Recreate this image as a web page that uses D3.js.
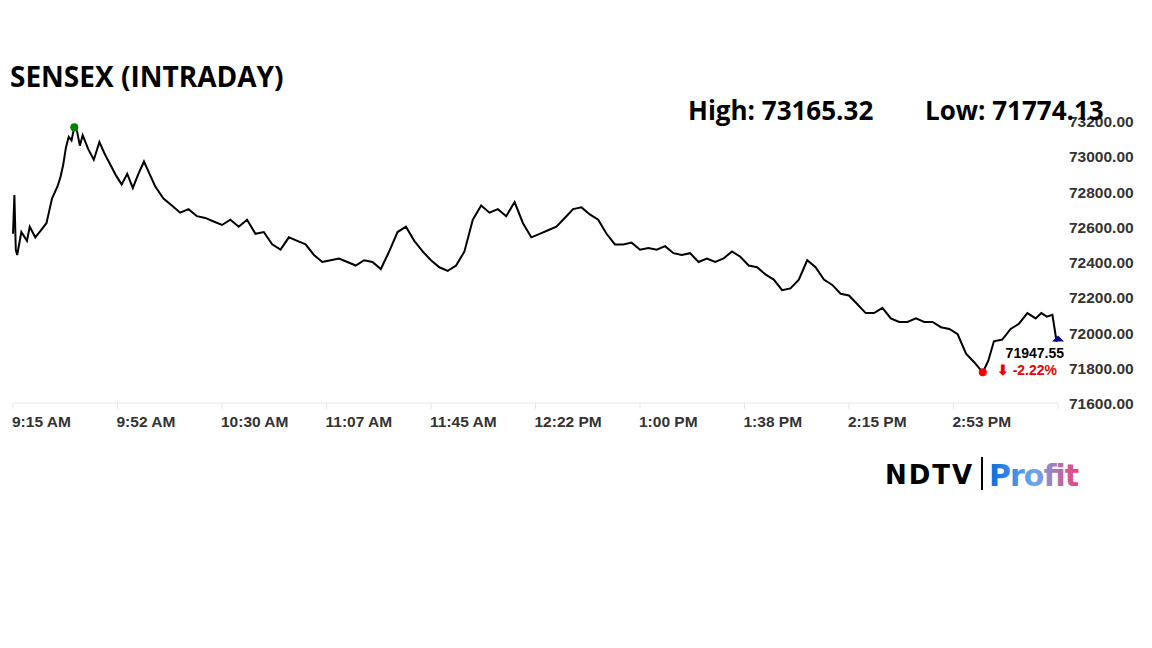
<!DOCTYPE html>
<html><head><meta charset="utf-8">
<script src="https://cdn.jsdelivr.net/npm/d3@7"></script>
<style>body{margin:0;background:#fff;font-family:"Open Sans",Arial,sans-serif}</style>
</head><body>
<script>
// minutes after 9:15 and index value
var mins = [0,0.5,1,1.5,3,5,6,8,10,12,13,14,16,17,18,19,20,21,22,23,24,25,27,29,31,33,35,37,39,41,43,45,47,49,51,54,57,60,63,66,69,72,75,78,81,84,87,90,93,96,99,102,105,108,111,114,117,120,123,126,129,132,135,138,141,144,147,150,153,156,159,162,165,168,171,174,177,180,183,186,189,192,195,198,201,204,207,210,213,216,219,222,225,228,231,234,237,240,243,246,249,252,255,258,261,264,267,270,273,276,279,282,285,288,291,294,297,300,303,306,309,312,315,318,321,324,327,330,333,336,339,342,345,348,350,352,355,358,361,364,367,369,371,373,374.5,375];
var vals = [72560,72780,72470,72440,72570,72520,72600,72540,72580,72620,72690,72760,72830,72880,72950,73050,73110,73090,73165,73140,73060,73120,73040,72980,73080,73010,72950,72890,72840,72900,72820,72900,72970,72900,72830,72760,72720,72680,72700,72660,72650,72630,72610,72640,72600,72640,72560,72570,72500,72470,72540,72520,72500,72440,72400,72410,72420,72400,72380,72410,72400,72360,72460,72570,72600,72520,72460,72410,72370,72350,72380,72460,72640,72720,72680,72700,72660,72740,72620,72540,72560,72580,72600,72650,72700,72710,72670,72640,72560,72500,72500,72510,72470,72480,72470,72490,72450,72440,72450,72400,72420,72400,72420,72460,72430,72380,72370,72330,72300,72240,72250,72300,72410,72370,72300,72270,72220,72210,72160,72110,72110,72140,72080,72060,72060,72080,72060,72060,72030,72020,71990,71880,71830,71774,71840,71950,71960,72020,72050,72110,72080,72110,72090,72100,71947.55];
var xTicks = ["9:15 AM","9:52 AM","10:30 AM","11:07 AM","11:45 AM","12:22 PM","1:00 PM","1:38 PM","2:15 PM","2:53 PM"];
var yTicks = [71600,71800,72000,72200,72400,72600,72800,73000,73200];

var svg = d3.select("body").append("svg").attr("width",1152).attr("height",648);
var x = d3.scaleLinear().domain([0,375]).range([13,1058]);
var y = d3.scaleLinear().domain([71600,73200]).range([403,121]);

svg.append("line").attr("x1",13).attr("x2",1058).attr("y1",403).attr("y2",403).attr("stroke","#e6e6e6");
xTicks.forEach(function(t,i){
  var px = x(i*37.5);
  svg.append("line").attr("x1",px).attr("x2",px).attr("y1",403).attr("y2",409).attr("stroke","#e6e6e6");
  svg.append("text").attr("x",px-1).attr("y",427).attr("font-family","Liberation Sans,Arial").attr("font-size",15.5).attr("font-weight","bold").attr("fill","#333").text(t);
});
svg.append("line").attr("x1",1058).attr("x2",1058).attr("y1",403).attr("y2",409).attr("stroke","#e6e6e6");
yTicks.forEach(function(v){
  svg.append("text").attr("x",1069).attr("y",y(v)+6).attr("font-family","Liberation Sans,Arial").attr("font-size",15.5).attr("font-weight","bold").attr("fill","#333").text(v.toFixed(2));
});

var pts = mins.map(function(m,i){return [m,vals[i]];});
svg.append("path").datum(pts).attr("fill","none").attr("stroke","#000").attr("stroke-width",2)
  .attr("d",d3.line().x(function(d){return x(d[0]);}).y(function(d){return y(d[1]);}));

var hi = d3.maxIndex(vals), lo = d3.minIndex(vals);
svg.append("circle").attr("cx",x(mins[hi])).attr("cy",y(vals[hi])).attr("r",4).attr("fill","green");
svg.append("circle").attr("cx",x(mins[lo])).attr("cy",y(vals[lo])).attr("r",4).attr("fill","red");
var ex = x(375), ey = y(71960);
svg.append("path").attr("d","M"+(ex-6)+","+(ey+2)+"L"+ex+","+(ey-4)+"L"+(ex+6)+","+(ey+2)+"Z").attr("fill","#00008b");

svg.append("text").attr("x",1064).attr("y",358).attr("text-anchor","end").attr("font-family","Liberation Sans,Arial").attr("font-size",14).attr("font-weight","bold").text("71947.55");
svg.append("text").attr("x",1057).attr("y",375).attr("text-anchor","end").attr("font-family","Liberation Sans,Arial").attr("font-size",14).attr("font-weight","bold").attr("fill","#e00").text("\u2b07 -2.22%");

svg.append("text").attr("x",10).attr("y",87).attr("font-size",28).attr("font-weight","bold").text("SENSEX (INTRADAY)");
svg.append("text").attr("x",688).attr("y",120).attr("font-size",26).attr("font-weight","bold").text("High: 73165.32");
svg.append("text").attr("x",925).attr("y",120).attr("font-size",26).attr("font-weight","bold").text("Low: 71774.13");

var g = svg.append("defs").append("linearGradient").attr("id","pg");
g.append("stop").attr("offset","0").attr("stop-color","#0a6fd8");
g.append("stop").attr("offset","0.5").attr("stop-color","#6aa8f0");
g.append("stop").attr("offset","1").attr("stop-color","#f0407a");
svg.append("text").attr("x",885).attr("y",484).attr("font-family","DejaVu Sans,Arial").attr("font-size",26).attr("font-weight","bold").attr("letter-spacing",-1).attr("textLength",86).text("NDTV");
svg.append("line").attr("x1",982).attr("x2",982).attr("y1",457).attr("y2",490).attr("stroke","#000").attr("stroke-width",2);
svg.append("text").attr("x",989).attr("y",486).attr("font-family","DejaVu Sans,Arial").attr("font-size",30).attr("font-weight","bold").attr("fill","url(#pg)").attr("textLength",90).text("Profit");
</script>
</body></html>
